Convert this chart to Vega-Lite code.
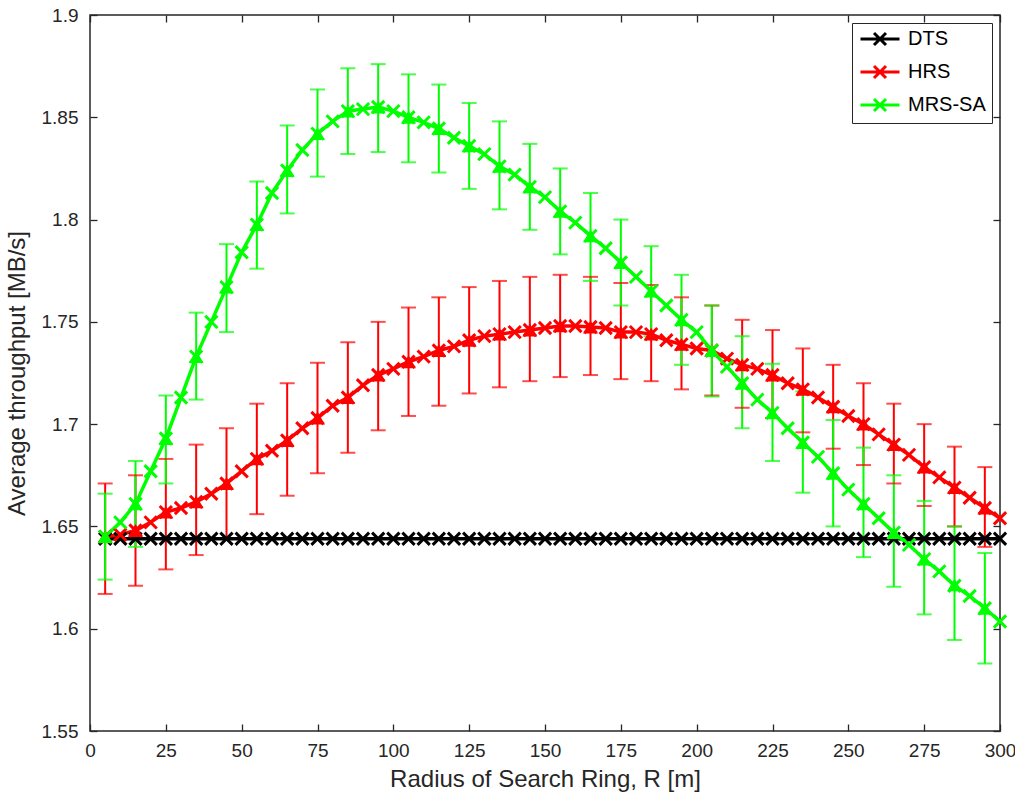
{
  "$schema": "https://vega.github.io/schema/vega-lite/v6.json",
  "width": 910,
  "height": 716,
  "autosize": {"type": "none"},
  "padding": {"left": 90, "top": 15, "right": 15, "bottom": 68},
  "background": "white",
  "config": {
    "view": {"stroke": "#262626", "strokeWidth": 1.5},
    "font": "Liberation Sans",
    "axis": {"domain": false, "grid": false, "labelFlush": false, "labelOverlap": false, "tickColor": "#262626", "tickWidth": 1.3, "tickSize": -7, "labelColor": "#262626", "labelFont": "Liberation Sans", "labelFontSize": 19, "titleFont": "Liberation Sans", "titleFontSize": 24, "titleFontWeight": "normal", "titleColor": "#262626"},
    "legend": {"title": null, "orient": "top-right", "offset": 8, "strokeColor": "#262626", "fillColor": "white", "padding": 6, "symbolType": "M-3.25,0H3.25M-1,-1L1,1M-1,1L1,-1", "symbolSize": 144, "symbolStrokeWidth": 3, "symbolFillColor": "transparent", "symbolOffset": 12, "labelOffset": 18, "labelFontSize": 20, "labelFont": "Liberation Sans", "labelColor": "#000000", "rowPadding": 9, "labelLimit": 200}
  },
  "datasets": {
    "lines": [
      {"series":"DTS","r":5,"y":1.644},{"series":"DTS","r":10,"y":1.644},{"series":"DTS","r":15,"y":1.644},{"series":"DTS","r":20,"y":1.644},{"series":"DTS","r":25,"y":1.644},{"series":"DTS","r":30,"y":1.644},{"series":"DTS","r":35,"y":1.644},{"series":"DTS","r":40,"y":1.644},{"series":"DTS","r":45,"y":1.644},{"series":"DTS","r":50,"y":1.644},
      {"series":"DTS","r":55,"y":1.644},{"series":"DTS","r":60,"y":1.644},{"series":"DTS","r":65,"y":1.644},{"series":"DTS","r":70,"y":1.644},{"series":"DTS","r":75,"y":1.644},{"series":"DTS","r":80,"y":1.644},{"series":"DTS","r":85,"y":1.644},{"series":"DTS","r":90,"y":1.644},{"series":"DTS","r":95,"y":1.644},{"series":"DTS","r":100,"y":1.644},
      {"series":"DTS","r":105,"y":1.644},{"series":"DTS","r":110,"y":1.644},{"series":"DTS","r":115,"y":1.644},{"series":"DTS","r":120,"y":1.644},{"series":"DTS","r":125,"y":1.644},{"series":"DTS","r":130,"y":1.644},{"series":"DTS","r":135,"y":1.644},{"series":"DTS","r":140,"y":1.644},{"series":"DTS","r":145,"y":1.644},{"series":"DTS","r":150,"y":1.644},
      {"series":"DTS","r":155,"y":1.644},{"series":"DTS","r":160,"y":1.644},{"series":"DTS","r":165,"y":1.644},{"series":"DTS","r":170,"y":1.644},{"series":"DTS","r":175,"y":1.644},{"series":"DTS","r":180,"y":1.644},{"series":"DTS","r":185,"y":1.644},{"series":"DTS","r":190,"y":1.644},{"series":"DTS","r":195,"y":1.644},{"series":"DTS","r":200,"y":1.644},
      {"series":"DTS","r":205,"y":1.644},{"series":"DTS","r":210,"y":1.644},{"series":"DTS","r":215,"y":1.644},{"series":"DTS","r":220,"y":1.644},{"series":"DTS","r":225,"y":1.644},{"series":"DTS","r":230,"y":1.644},{"series":"DTS","r":235,"y":1.644},{"series":"DTS","r":240,"y":1.644},{"series":"DTS","r":245,"y":1.644},{"series":"DTS","r":250,"y":1.644},
      {"series":"DTS","r":255,"y":1.644},{"series":"DTS","r":260,"y":1.644},{"series":"DTS","r":265,"y":1.644},{"series":"DTS","r":270,"y":1.644},{"series":"DTS","r":275,"y":1.644},{"series":"DTS","r":280,"y":1.644},{"series":"DTS","r":285,"y":1.644},{"series":"DTS","r":290,"y":1.644},{"series":"DTS","r":295,"y":1.644},{"series":"DTS","r":300,"y":1.644},
      {"series":"HRS","r":5,"y":1.645},{"series":"HRS","r":10,"y":1.646},{"series":"HRS","r":15,"y":1.648},{"series":"HRS","r":20,"y":1.652},{"series":"HRS","r":25,"y":1.657},{"series":"HRS","r":30,"y":1.659},{"series":"HRS","r":35,"y":1.662},{"series":"HRS","r":40,"y":1.666},{"series":"HRS","r":45,"y":1.671},{"series":"HRS","r":50,"y":1.677},
      {"series":"HRS","r":55,"y":1.683},{"series":"HRS","r":60,"y":1.687},{"series":"HRS","r":65,"y":1.692},{"series":"HRS","r":70,"y":1.698},{"series":"HRS","r":75,"y":1.703},{"series":"HRS","r":80,"y":1.709},{"series":"HRS","r":85,"y":1.713},{"series":"HRS","r":90,"y":1.719},{"series":"HRS","r":95,"y":1.724},{"series":"HRS","r":100,"y":1.727},
      {"series":"HRS","r":105,"y":1.7305},{"series":"HRS","r":110,"y":1.733},{"series":"HRS","r":115,"y":1.736},{"series":"HRS","r":120,"y":1.738},{"series":"HRS","r":125,"y":1.741},{"series":"HRS","r":130,"y":1.743},{"series":"HRS","r":135,"y":1.744},{"series":"HRS","r":140,"y":1.745},{"series":"HRS","r":145,"y":1.746},{"series":"HRS","r":150,"y":1.747},
      {"series":"HRS","r":155,"y":1.748},{"series":"HRS","r":160,"y":1.748},{"series":"HRS","r":165,"y":1.7475},{"series":"HRS","r":170,"y":1.747},{"series":"HRS","r":175,"y":1.745},{"series":"HRS","r":180,"y":1.745},{"series":"HRS","r":185,"y":1.744},{"series":"HRS","r":190,"y":1.741},{"series":"HRS","r":195,"y":1.739},{"series":"HRS","r":200,"y":1.737},
      {"series":"HRS","r":205,"y":1.736},{"series":"HRS","r":210,"y":1.732},{"series":"HRS","r":215,"y":1.729},{"series":"HRS","r":220,"y":1.727},{"series":"HRS","r":225,"y":1.724},{"series":"HRS","r":230,"y":1.72},{"series":"HRS","r":235,"y":1.717},{"series":"HRS","r":240,"y":1.713},{"series":"HRS","r":245,"y":1.7085},{"series":"HRS","r":250,"y":1.704},
      {"series":"HRS","r":255,"y":1.7},{"series":"HRS","r":260,"y":1.695},{"series":"HRS","r":265,"y":1.69},{"series":"HRS","r":270,"y":1.685},{"series":"HRS","r":275,"y":1.679},{"series":"HRS","r":280,"y":1.674},{"series":"HRS","r":285,"y":1.669},{"series":"HRS","r":290,"y":1.664},{"series":"HRS","r":295,"y":1.659},{"series":"HRS","r":300,"y":1.654},
      {"series":"MRS-SA","r":5,"y":1.645},{"series":"MRS-SA","r":10,"y":1.652},{"series":"MRS-SA","r":15,"y":1.661},{"series":"MRS-SA","r":20,"y":1.677},{"series":"MRS-SA","r":25,"y":1.693},{"series":"MRS-SA","r":30,"y":1.713},{"series":"MRS-SA","r":35,"y":1.733},{"series":"MRS-SA","r":40,"y":1.75},{"series":"MRS-SA","r":45,"y":1.767},{"series":"MRS-SA","r":50,"y":1.784},
      {"series":"MRS-SA","r":55,"y":1.7975},{"series":"MRS-SA","r":60,"y":1.813},{"series":"MRS-SA","r":65,"y":1.824},{"series":"MRS-SA","r":70,"y":1.834},{"series":"MRS-SA","r":75,"y":1.842},{"series":"MRS-SA","r":80,"y":1.848},{"series":"MRS-SA","r":85,"y":1.853},{"series":"MRS-SA","r":90,"y":1.854},{"series":"MRS-SA","r":95,"y":1.855},{"series":"MRS-SA","r":100,"y":1.853},
      {"series":"MRS-SA","r":105,"y":1.85},{"series":"MRS-SA","r":110,"y":1.8475},{"series":"MRS-SA","r":115,"y":1.8445},{"series":"MRS-SA","r":120,"y":1.84},{"series":"MRS-SA","r":125,"y":1.836},{"series":"MRS-SA","r":130,"y":1.832},{"series":"MRS-SA","r":135,"y":1.826},{"series":"MRS-SA","r":140,"y":1.822},{"series":"MRS-SA","r":145,"y":1.816},{"series":"MRS-SA","r":150,"y":1.811},
      {"series":"MRS-SA","r":155,"y":1.804},{"series":"MRS-SA","r":160,"y":1.7985},{"series":"MRS-SA","r":165,"y":1.792},{"series":"MRS-SA","r":170,"y":1.786},{"series":"MRS-SA","r":175,"y":1.779},{"series":"MRS-SA","r":180,"y":1.772},{"series":"MRS-SA","r":185,"y":1.765},{"series":"MRS-SA","r":190,"y":1.758},{"series":"MRS-SA","r":195,"y":1.751},{"series":"MRS-SA","r":200,"y":1.745},
      {"series":"MRS-SA","r":205,"y":1.736},{"series":"MRS-SA","r":210,"y":1.728},{"series":"MRS-SA","r":215,"y":1.72},{"series":"MRS-SA","r":220,"y":1.712},{"series":"MRS-SA","r":225,"y":1.7055},{"series":"MRS-SA","r":230,"y":1.698},{"series":"MRS-SA","r":235,"y":1.691},{"series":"MRS-SA","r":240,"y":1.684},{"series":"MRS-SA","r":245,"y":1.676},{"series":"MRS-SA","r":250,"y":1.668},
      {"series":"MRS-SA","r":255,"y":1.661},{"series":"MRS-SA","r":260,"y":1.654},{"series":"MRS-SA","r":265,"y":1.647},{"series":"MRS-SA","r":270,"y":1.641},{"series":"MRS-SA","r":275,"y":1.634},{"series":"MRS-SA","r":280,"y":1.628},{"series":"MRS-SA","r":285,"y":1.621},{"series":"MRS-SA","r":290,"y":1.616},{"series":"MRS-SA","r":295,"y":1.61},{"series":"MRS-SA","r":300,"y":1.6035}
    ],
    "err": [
      {"series":"HRS","r":5,"y":1.645,"lo":1.617,"hi":1.671},
      {"series":"HRS","r":15,"y":1.648,"lo":1.621,"hi":1.675},
      {"series":"HRS","r":25,"y":1.657,"lo":1.629,"hi":1.683},
      {"series":"HRS","r":35,"y":1.662,"lo":1.636,"hi":1.69},
      {"series":"HRS","r":45,"y":1.671,"lo":1.644,"hi":1.698},
      {"series":"HRS","r":55,"y":1.683,"lo":1.656,"hi":1.71},
      {"series":"HRS","r":65,"y":1.692,"lo":1.665,"hi":1.72},
      {"series":"HRS","r":75,"y":1.703,"lo":1.676,"hi":1.73},
      {"series":"HRS","r":85,"y":1.713,"lo":1.686,"hi":1.74},
      {"series":"HRS","r":95,"y":1.724,"lo":1.697,"hi":1.75},
      {"series":"HRS","r":105,"y":1.7305,"lo":1.704,"hi":1.757},
      {"series":"HRS","r":115,"y":1.736,"lo":1.709,"hi":1.762},
      {"series":"HRS","r":125,"y":1.741,"lo":1.715,"hi":1.767},
      {"series":"HRS","r":135,"y":1.744,"lo":1.718,"hi":1.77},
      {"series":"HRS","r":145,"y":1.746,"lo":1.721,"hi":1.772},
      {"series":"HRS","r":155,"y":1.748,"lo":1.723,"hi":1.773},
      {"series":"HRS","r":165,"y":1.7475,"lo":1.724,"hi":1.772},
      {"series":"HRS","r":175,"y":1.745,"lo":1.722,"hi":1.769},
      {"series":"HRS","r":185,"y":1.744,"lo":1.721,"hi":1.768},
      {"series":"HRS","r":195,"y":1.739,"lo":1.717,"hi":1.762},
      {"series":"HRS","r":205,"y":1.736,"lo":1.714,"hi":1.758},
      {"series":"HRS","r":215,"y":1.729,"lo":1.708,"hi":1.751},
      {"series":"HRS","r":225,"y":1.724,"lo":1.703,"hi":1.746},
      {"series":"HRS","r":235,"y":1.717,"lo":1.696,"hi":1.737},
      {"series":"HRS","r":245,"y":1.7085,"lo":1.688,"hi":1.729},
      {"series":"HRS","r":255,"y":1.7,"lo":1.68,"hi":1.72},
      {"series":"HRS","r":265,"y":1.69,"lo":1.671,"hi":1.71},
      {"series":"HRS","r":275,"y":1.679,"lo":1.66,"hi":1.7},
      {"series":"HRS","r":285,"y":1.669,"lo":1.65,"hi":1.689},
      {"series":"HRS","r":295,"y":1.659,"lo":1.64,"hi":1.679},
      {"series":"MRS-SA","r":5,"y":1.645,"lo":1.624,"hi":1.666},
      {"series":"MRS-SA","r":15,"y":1.661,"lo":1.64,"hi":1.682},
      {"series":"MRS-SA","r":25,"y":1.693,"lo":1.671,"hi":1.714},
      {"series":"MRS-SA","r":35,"y":1.733,"lo":1.712,"hi":1.7545},
      {"series":"MRS-SA","r":45,"y":1.767,"lo":1.745,"hi":1.788},
      {"series":"MRS-SA","r":55,"y":1.7975,"lo":1.776,"hi":1.8186},
      {"series":"MRS-SA","r":65,"y":1.824,"lo":1.803,"hi":1.846},
      {"series":"MRS-SA","r":75,"y":1.842,"lo":1.821,"hi":1.8636},
      {"series":"MRS-SA","r":85,"y":1.853,"lo":1.832,"hi":1.874},
      {"series":"MRS-SA","r":95,"y":1.855,"lo":1.833,"hi":1.876},
      {"series":"MRS-SA","r":105,"y":1.85,"lo":1.828,"hi":1.871},
      {"series":"MRS-SA","r":115,"y":1.8445,"lo":1.823,"hi":1.866},
      {"series":"MRS-SA","r":125,"y":1.836,"lo":1.815,"hi":1.857},
      {"series":"MRS-SA","r":135,"y":1.826,"lo":1.805,"hi":1.848},
      {"series":"MRS-SA","r":145,"y":1.816,"lo":1.795,"hi":1.837},
      {"series":"MRS-SA","r":155,"y":1.804,"lo":1.783,"hi":1.825},
      {"series":"MRS-SA","r":165,"y":1.792,"lo":1.77,"hi":1.813},
      {"series":"MRS-SA","r":175,"y":1.779,"lo":1.758,"hi":1.8},
      {"series":"MRS-SA","r":185,"y":1.765,"lo":1.743,"hi":1.787},
      {"series":"MRS-SA","r":195,"y":1.751,"lo":1.729,"hi":1.773},
      {"series":"MRS-SA","r":205,"y":1.736,"lo":1.7135,"hi":1.758},
      {"series":"MRS-SA","r":215,"y":1.72,"lo":1.698,"hi":1.743},
      {"series":"MRS-SA","r":225,"y":1.7055,"lo":1.682,"hi":1.7295},
      {"series":"MRS-SA","r":235,"y":1.691,"lo":1.6665,"hi":1.716},
      {"series":"MRS-SA","r":245,"y":1.676,"lo":1.65,"hi":1.702},
      {"series":"MRS-SA","r":255,"y":1.661,"lo":1.635,"hi":1.6885},
      {"series":"MRS-SA","r":265,"y":1.647,"lo":1.6205,"hi":1.675},
      {"series":"MRS-SA","r":275,"y":1.634,"lo":1.607,"hi":1.6625},
      {"series":"MRS-SA","r":285,"y":1.6214,"lo":1.5945,"hi":1.65},
      {"series":"MRS-SA","r":295,"y":1.61,"lo":1.583,"hi":1.637}
    ]
  },
  "resolve": {"axis": {"x": "independent", "y": "independent"}},
  "layer": [
    {
      "data": {"name": "err"},
      "mark": {"type": "rule", "strokeWidth": 2},
      "encoding": {
        "x": {"field": "r", "type": "quantitative", "scale": {"domain": [0, 300], "nice": false, "zero": false}, "axis": {"orient": "bottom", "values": [0,25,50,75,100,125,150,175,200,225,250,275,300], "labelPadding": 17, "title": "Radius of Search Ring, R [m]", "titlePadding": 7}},
        "y": {"field": "lo", "type": "quantitative", "scale": {"domain": [1.55, 1.9], "nice": false, "zero": false}, "axis": {"orient": "left", "values": [1.55,1.6,1.65,1.7,1.75,1.8,1.85,1.9], "format": ".2~f", "labelPadding": 19, "title": "Average throughput [MB/s]", "titlePadding": 12}},
        "y2": {"field": "hi"},
        "color": {"field": "series", "type": "nominal", "scale": {"domain": ["DTS", "HRS", "MRS-SA"], "range": ["#000000", "#ff0000", "#00ff00"]}, "legend": {"encode": {"symbols": {"update": {"fill": {"value": "transparent"}, "strokeWidth": {"value": 3}}}}}}
      }
    },
    {
      "data": {"name": "err"},
      "mark": {"type": "tick", "orient": "horizontal", "size": 15, "thickness": 2},
      "encoding": {
        "x": {"field": "r", "type": "quantitative", "axis": null},
        "y": {"field": "lo", "type": "quantitative", "axis": null},
        "color": {"field": "series", "type": "nominal"}
      }
    },
    {
      "data": {"name": "err"},
      "mark": {"type": "tick", "orient": "horizontal", "size": 15, "thickness": 2},
      "encoding": {
        "x": {"field": "r", "type": "quantitative", "axis": null},
        "y": {"field": "hi", "type": "quantitative", "axis": null},
        "color": {"field": "series", "type": "nominal"}
      }
    },
    {
      "data": {"name": "lines"},
      "mark": {"type": "line", "strokeWidth": 3.5},
      "encoding": {
        "x": {"field": "r", "type": "quantitative", "axis": {"orient": "top", "values": [0,25,50,75,100,125,150,175,200,225,250,275,300], "labels": false, "title": null}},
        "y": {"field": "y", "type": "quantitative", "axis": {"orient": "right", "values": [1.55,1.6,1.65,1.7,1.75,1.8,1.85,1.9], "labels": false, "title": null}},
        "color": {"field": "series", "type": "nominal"}
      }
    },
    {
      "data": {"name": "lines"},
      "mark": {"type": "point", "shape": "M-1,-1L1,1M-1,1L1,-1", "filled": false, "size": 150, "strokeWidth": 3, "opacity": 1},
      "encoding": {
        "x": {"field": "r", "type": "quantitative", "axis": null},
        "y": {"field": "y", "type": "quantitative", "axis": null},
        "color": {"field": "series", "type": "nominal"}
      }
    },
    {
      "data": {"name": "err"},
      "mark": {"type": "point", "shape": "triangle-up", "filled": true, "size": 220, "opacity": 1, "strokeWidth": 0},
      "encoding": {
        "x": {"field": "r", "type": "quantitative", "axis": null},
        "y": {"field": "y", "type": "quantitative", "axis": null},
        "color": {"field": "series", "type": "nominal"}
      }
    }
  ]
}
